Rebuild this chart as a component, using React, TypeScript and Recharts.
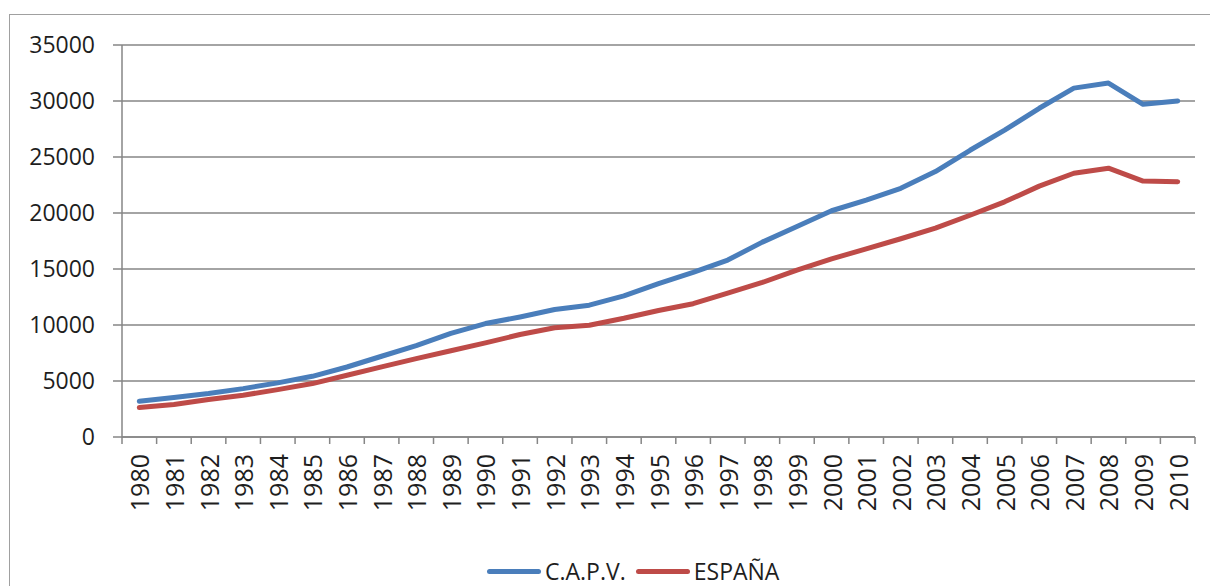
import { LineChart, Line, XAxis, YAxis, CartesianGrid } from "recharts";

const years = [
  "1980", "1981", "1982", "1983", "1984", "1985", "1986", "1987", "1988", "1989",
  "1990", "1991", "1992", "1993", "1994", "1995", "1996", "1997", "1998", "1999",
  "2000", "2001", "2002", "2003", "2004", "2005", "2006", "2007", "2008", "2009", "2010",
];

const capv = [
  3190, 3520, 3880, 4320, 4830, 5420, 6250, 7210, 8150, 9250,
  10130, 10720, 11380, 11770, 12600, 13700, 14700, 15800, 17400, 18800,
  20200, 21150, 22200, 23700, 25600, 27400, 29350, 31150, 31600, 29700, 30000,
];

const espana = [
  2630, 2900, 3340, 3730, 4230, 4770, 5510, 6260, 7000, 7700,
  8400, 9150, 9750, 9980, 10600, 11300, 11900, 12850, 13800, 14900,
  15900, 16800, 17700, 18650, 19800, 21000, 22400, 23550, 24000, 22850, 22800,
];

const yTicks = [0, 5000, 10000, 15000, 20000, 25000, 30000, 35000];

const data = years.map((year, i) => ({ year, capv: capv[i], espana: espana[i] }));

const W = 1210;
const H = 586;
const Y_AXIS_W = 122;
const RIGHT = 15;
const STEP = (W - Y_AXIS_W - RIGHT) / years.length;
const GRAY = "#868686";
const TEXT = "#1e1e1e";
const FONT = "'Open Sans', 'Noto Sans', sans-serif";

function YearTick(props: any) {
  const { x, y, payload, index } = props;
  return (
    <g>
      <line x1={x - STEP / 2} x2={x - STEP / 2} y1={y} y2={y + 7} stroke={GRAY} strokeWidth={1.5} />
      {index === years.length - 1 && (
        <line x1={x + STEP / 2} x2={x + STEP / 2} y1={y} y2={y + 7} stroke={GRAY} strokeWidth={1.5} />
      )}
      <text
        x={x}
        y={y + 17}
        transform={`rotate(-90, ${x}, ${y + 17})`}
        textAnchor="end"
        dominantBaseline="central"
        fontSize={25}
        fontFamily={FONT}
        fill={TEXT}
      >
        {payload.value}
      </text>
    </g>
  );
}

function LegendItem({ color, label }: { color: string; label: string }) {
  return (
    <div style={{ display: "flex", alignItems: "center", marginRight: 10 }}>
      <div style={{ width: 54, height: 5, borderRadius: 3, background: color, marginRight: 4 }} />
      <span style={{ fontSize: 23, color: TEXT, fontFamily: FONT }}>{label}</span>
    </div>
  );
}

export default function App() {
  return (
    <div style={{ position: "relative", width: W, height: H, overflow: "hidden", background: "#fff" }}>
      <style>{"body{margin:0;}"}</style>
      <div
        style={{
          position: "absolute",
          left: 9,
          top: 14,
          width: W + 100,
          height: H + 100,
          border: "1.5px solid #a0a0a0",
        }}
      />
      <div style={{ position: "absolute", left: 0, top: 0 }}>
        <LineChart width={W} height={H} data={data} margin={{ top: 45, right: RIGHT, bottom: 0, left: 0 }}>
          <CartesianGrid vertical={false} stroke={GRAY} strokeWidth={1.5} />
          <XAxis
            dataKey="year"
            interval={0}
            height={149}
            padding={{ left: STEP / 2, right: STEP / 2 }}
            tickSize={0}
            tickMargin={0}
            tickLine={false}
            axisLine={{ stroke: GRAY, strokeWidth: 1.5 }}
            tick={<YearTick />}
          />
          <YAxis
            width={Y_AXIS_W}
            domain={[0, 35000]}
            ticks={yTicks}
            interval={0}
            tickSize={9}
            tickMargin={18}
            tickLine={{ stroke: GRAY, strokeWidth: 1.5 }}
            axisLine={{ stroke: GRAY, strokeWidth: 1.5 }}
            tick={{ fontSize: 23, fill: TEXT, fontFamily: FONT }}
          />
          <Line
            type="linear"
            dataKey="capv"
            name="C.A.P.V."
            stroke="#4a7ebb"
            strokeWidth={5}
            strokeLinecap="round"
            strokeLinejoin="round"
            dot={false}
            isAnimationActive={false}
          />
          <Line
            type="linear"
            dataKey="espana"
            name="ESPAÑA"
            stroke="#be4b48"
            strokeWidth={5}
            strokeLinecap="round"
            strokeLinejoin="round"
            dot={false}
            isAnimationActive={false}
          />
        </LineChart>
      </div>
      <div
        style={{
          position: "absolute",
          left: 487,
          top: 556,
          display: "flex",
          alignItems: "center",
          height: 30,
        }}
      >
        <LegendItem color="#4a7ebb" label="C.A.P.V." />
        <LegendItem color="#be4b48" label="ESPAÑA" />
      </div>
    </div>
  );
}
